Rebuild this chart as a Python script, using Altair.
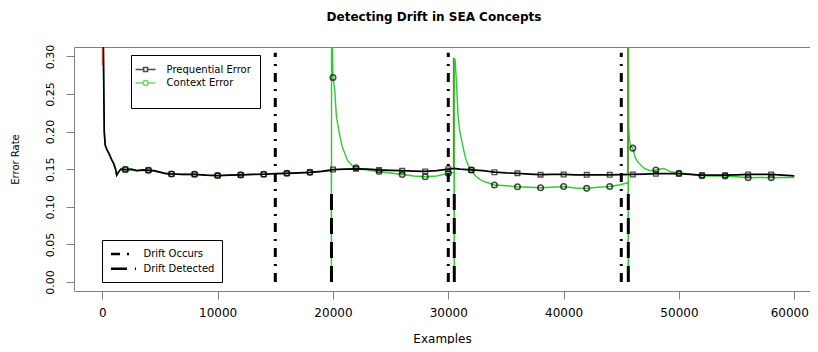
import altair as alt
import pandas as pd

# ---------------- data ----------------
preq_x = [0, 60, 120, 170, 250, 400, 600, 800, 1000, 1150, 1250, 1400, 1600, 2000, 2500, 3000,
          3500, 4000, 4500, 5000, 5500, 6000, 7000, 8000, 9000, 10000, 11000, 12000, 13000, 14000,
          15000, 16000, 17000, 18000, 19000, 20000, 21000, 22000, 23000, 24000, 25000, 26000, 27000,
          28000, 29000, 30000, 30500, 31000, 32000, 33000, 34000, 35000, 36000, 37000, 38000, 39000,
          40000, 41000, 42000, 43000, 44000, 45000, 46000, 47000, 48000, 49000, 50000, 51000, 52000,
          53000, 54000, 55000, 56000, 57000, 58000, 59000, 60000]
preq_y = [0.50, 0.36, 0.27, 0.20, 0.182, 0.176, 0.170, 0.163, 0.157, 0.150, 0.142, 0.146, 0.150, 0.1495, 0.150, 0.148,
          0.149, 0.1485, 0.148, 0.146, 0.144, 0.1436, 0.143, 0.1432, 0.142, 0.1415, 0.142, 0.1424, 0.143, 0.1433,
          0.144, 0.1445, 0.145, 0.1458, 0.147, 0.1495, 0.150, 0.1505, 0.150, 0.149, 0.1485, 0.148, 0.1475,
          0.147, 0.148, 0.150, 0.151, 0.150, 0.149, 0.148, 0.146, 0.145, 0.1445, 0.1435, 0.1427, 0.143,
          0.143, 0.1425, 0.1425, 0.1425, 0.1425, 0.1428, 0.143, 0.1435, 0.144, 0.1442, 0.144, 0.143, 0.142,
          0.142, 0.142, 0.1425, 0.143, 0.143, 0.143, 0.142, 0.141]

ctx_x = [0, 60, 120, 170, 250, 400, 600, 800, 1000, 1150, 1250, 1400, 1600, 2000, 3000, 4000, 5000,
         6000, 7000, 8000, 9000, 10000, 11000, 12000, 13000, 14000, 15000, 16000, 17000, 18000, 19000,
         19860, 19870, 19880, 19950, 20000, 20150, 20300, 20550, 20800, 21250, 21700, 22000, 22500,
         23000, 24000, 25000, 26000, 27000, 28000, 29000, 30000, 30500, 30515, 30525, 30600, 30710,
         30850, 31000, 31150, 31450, 31700, 32000, 32300, 32600, 33000, 34000, 35000, 36000, 37000,
         38000, 39000, 40000, 41000, 42000, 43000, 44000, 44800, 45590, 45605, 45615, 45650, 45700,
         45800, 46000, 46200, 46400, 47000, 47500, 48000, 48300, 48700, 49200, 50000, 50800, 51500,
         52000, 53000, 54000, 55000, 56000, 57000, 58000, 59000, 60000]
ctx_y = [0.50, 0.36, 0.27, 0.20, 0.182, 0.176, 0.170, 0.163, 0.157, 0.150, 0.142, 0.146, 0.150, 0.1495, 0.148, 0.1485, 0.146,
         0.1436, 0.143, 0.1432, 0.142, 0.1415, 0.142, 0.1424, 0.143, 0.1433, 0.144, 0.1445, 0.145, 0.1458, 0.147,
         0.148, 0.0, 0.45, 0.31, 0.272, 0.256, 0.22, 0.198, 0.18, 0.162, 0.154, 0.152, 0.150,
         0.149, 0.147, 0.145, 0.143, 0.141, 0.140, 0.141, 0.1445, 0.146, 0.0, 0.298, 0.294, 0.265,
         0.22, 0.20, 0.189, 0.167, 0.156, 0.149, 0.142, 0.138, 0.134, 0.129, 0.128, 0.1267, 0.126,
         0.1253, 0.126, 0.127, 0.125, 0.1245, 0.126, 0.127, 0.129, 0.132, 0.0, 0.45, 0.2067, 0.19,
         0.181, 0.178, 0.166, 0.16, 0.151, 0.148, 0.149, 0.150, 0.151, 0.147, 0.1445, 0.144, 0.142,
         0.1413, 0.141, 0.141, 0.140, 0.1387, 0.139, 0.1387, 0.139, 0.139]

mark_x = [2000, 4000, 6000, 8000, 10000, 12000, 14000, 16000, 18000, 20000, 22000, 24000, 26000, 28000,
          30000, 32000, 34000, 36000, 38000, 40000, 42000, 44000, 46000, 48000, 50000, 52000, 54000,
          56000, 58000]
preq_mark_y = [0.1495, 0.1485, 0.1436, 0.1432, 0.1415, 0.1424, 0.1433, 0.1445, 0.1458, 0.1495, 0.1505, 0.149,
               0.148, 0.147, 0.150, 0.149, 0.146, 0.1445, 0.1427, 0.143, 0.1425, 0.1425, 0.143, 0.144, 0.144,
               0.142, 0.142, 0.143, 0.143]
ctx_mark_y = [0.1495, 0.1485, 0.1436, 0.1432, 0.1415, 0.1424, 0.1433, 0.1445, 0.1458, 0.272, 0.152, 0.147,
              0.143, 0.140, 0.1445, 0.149, 0.129, 0.1267, 0.1253, 0.127, 0.1245, 0.127, 0.178, 0.149, 0.1445,
              0.1413, 0.141, 0.1387, 0.1387]

occurs_x = [15000, 30000, 45000]
occurs_lo = [0.0, 0.0, 0.0]
occurs_hi = [0.305, 0.305, 0.305]
detected_x = [19870, 30520, 45610]
detected_lo = [0.0, 0.0, 0.0]
detected_hi = [0.12, 0.12, 0.12]
red_x = [0, 30440, 45560]
red_lo = [0.288, 0.152, 0.143]
red_hi = [0.33, 0.298, 0.33]

series_names = ["Prequential Error", "Context Error"]
drift_names = ["Drift Occurs", "Drift Detected"]
x_ticks = [0, 10000, 20000, 30000, 40000, 50000, 60000]
y_ticks = [0.0, 0.05, 0.10, 0.15, 0.20, 0.25, 0.30]

# ---------------- styling ----------------
GREEN = "#2ecc2e"
GRAY = "#808080"
FONT = "DejaVu Sans"

preq_df = pd.DataFrame({"x": preq_x, "y": preq_y})
ctx_df = pd.DataFrame({"x": ctx_x, "y": ctx_y})
pm_df = pd.DataFrame({"x": mark_x, "y": preq_mark_y})
cm_df = pd.DataFrame({"x": mark_x, "y": ctx_mark_y})
occ_df = pd.DataFrame({"x": occurs_x, "y": occurs_lo, "y2": occurs_hi, "kind": drift_names[0]})
det_df = pd.DataFrame({"x": detected_x, "y": detected_lo, "y2": detected_hi, "kind": drift_names[1]})
red_df = pd.DataFrame({"x": red_x, "y": red_lo, "y2": red_hi})
leg_df = pd.DataFrame({"series": series_names})

xs = alt.Scale(domain=[-2454, 61363], nice=False, zero=False)
ys = alt.Scale(domain=[-0.012, 0.3125], nice=False, zero=False)

x_bottom = alt.X("x:Q", scale=xs, axis=alt.Axis(
    values=x_ticks, format="d", title="Examples", tickSize=8, labelFontSize=12, labelPadding=8,
    labelOffset={"condition": {"test": "datum.value == 60000", "value": -5}, "value": 0},
    titleFontSize=12, titleY=51, titleBaseline="alphabetic"))
x_top = alt.X("x:Q", scale=xs, axis=alt.Axis(orient="top", labels=False, ticks=False, title=None))
x_none = alt.X("x:Q", scale=xs, axis=None)
y_axis = alt.Axis(values=y_ticks, format=".2f", title="Error Rate",
                  tickSize=8, labelFontSize=11, labelAngle=270,
                  labelAlign="center", labelBaseline="middle", labelPadding=16,
                  titleFontSize=10, titleX=-59, titleY=112, titleAngle=270,
                  titleAlign="center", titleBaseline="middle")
y_left = alt.Y("y:Q", scale=ys, axis=y_axis)

ctx_line = alt.Chart(ctx_df).mark_line(color=GREEN, strokeWidth=1.4, clip=True).encode(x=x_none, y=y_left)
preq_line = alt.Chart(preq_df).mark_line(color="black", strokeWidth=1.7, clip=True).encode(x=x_bottom, y=y_left)

dash_scale = alt.Scale(domain=drift_names, range=[[9, 7, 2, 7], [16, 8]])
dash_legend = alt.Legend(orient="none", legendX=28, legendY=193, title=None, padding=7.5,
                         strokeColor="black", fillColor="white", symbolType="M-1,0H4", symbolSize=100,
                         symbolStrokeWidth=2.5, symbolStrokeColor="black", labelOffset=21, rowPadding=2.7,
                         labelFont=FONT, labelFontSize=10, labelColor="black")
occ = alt.Chart(occ_df).mark_rule(color="black", strokeWidth=3, clip=True).encode(
    x=x_top, y=y_left, y2="y2:Q", strokeDash=alt.StrokeDash("kind:N", scale=dash_scale, legend=dash_legend))
det = alt.Chart(det_df).mark_rule(color="black", strokeWidth=3, clip=True).encode(
    x=x_none, y=y_left, y2="y2:Q", strokeDash=alt.StrokeDash("kind:N", scale=dash_scale, legend=dash_legend))
red = alt.Chart(red_df).mark_rule(color="#e0302a", strokeWidth=1, clip=True).encode(x=x_none, y=y_left, y2="y2:Q")

sq = alt.Chart(pm_df).mark_point(shape="square", size=22, color="black", strokeWidth=1.3, clip=True).encode(x=x_none, y=y_left)
ci = alt.Chart(cm_df).mark_point(shape="circle", size=30, color="black", strokeWidth=1.6, clip=True).encode(x=x_none, y=y_left)

sym_sq = "M-2,0H-0.4M0.4,0H2M-0.4,-0.4H0.4V0.4H-0.4Z"
sym_ci = "M-2,0H-0.5M0.5,0H2M-0.5,0A0.5,0.5,0,1,0,0.5,0A0.5,0.5,0,1,0,-0.5,0"
ser_legend = alt.Legend(orient="none", legendX=57, legendY=8, title=" ", titleOrient="bottom",
                        titleFontSize=10, titlePadding=0, padding=8.6, strokeColor="black", fillColor="white",
                        symbolSize=100, symbolStrokeWidth=1.5, labelOffset=15, rowPadding=2.4,
                        labelFont=FONT, labelFontSize=10, labelColor="black", labelLimit=300)
leg = alt.Chart(leg_df).mark_point(filled=False).encode(
    color=alt.Color("series:N", scale=alt.Scale(domain=series_names, range=["black", GREEN]), legend=ser_legend),
    shape=alt.Shape("series:N", scale=alt.Scale(domain=series_names, range=[sym_sq, sym_ci]), legend=ser_legend),
).transform_filter("false")

chart = alt.layer(ctx_line, preq_line, occ, det, red, sq, ci, leg).resolve_axis(x="independent").properties(
    width=736, height=244,
    padding={"left": 66, "top": 39, "right": 0, "bottom": 53},
    autosize=alt.AutoSizeParams(type="none"),
    title=alt.TitleParams("Detecting Drift in SEA Concepts", font=FONT, fontSize=12, fontWeight="bold",
                          anchor="middle", baseline="alphabetic", offset=11, dx=-8, color="black"),
).configure_view(stroke=None).configure_axis(
    grid=False, domainColor=GRAY, tickColor=GRAY, labelFont=FONT, titleFont=FONT,
    labelColor="black", titleColor="black", titleFontWeight="normal")

chart.save("out.html", embed_options={"renderer": "svg", "actions": False})
